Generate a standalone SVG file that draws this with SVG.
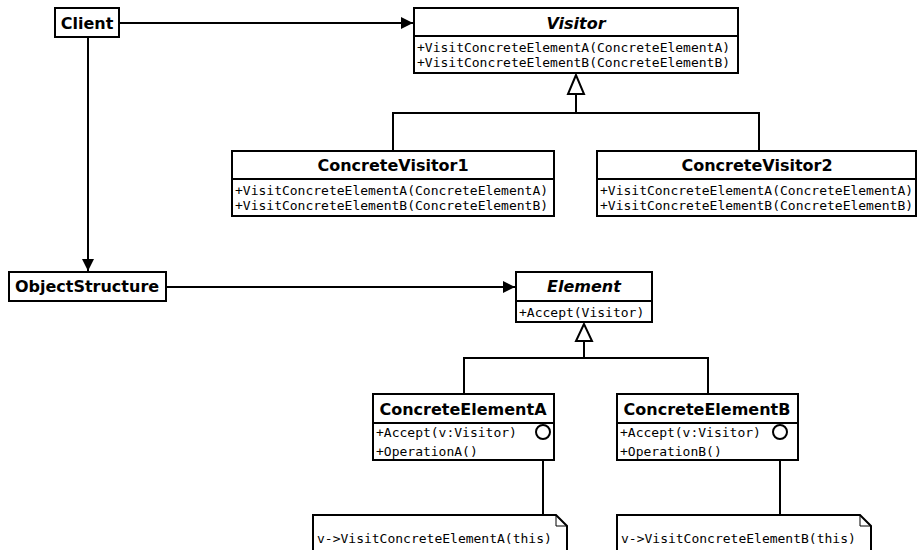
<svg xmlns="http://www.w3.org/2000/svg" width="918" height="550" viewBox="0 0 918 550">
<defs>
<style>
.box{fill:#fff;stroke:#000;stroke-width:2}
.ln{fill:none;stroke:#000;stroke-width:2}
.t{font-family:"DejaVu Sans",sans-serif;font-weight:bold;font-size:16px;text-anchor:middle;fill:#000}
.ti{font-family:"DejaVu Sans",sans-serif;font-weight:bold;font-style:italic;font-size:16px;text-anchor:middle;fill:#000}
.m{font-family:"DejaVu Sans Mono",monospace;font-size:13px;fill:#000}
</style>
<marker id="arr" viewBox="0 0 12 12" refX="12" refY="6" markerWidth="12" markerHeight="12" markerUnits="userSpaceOnUse" orient="auto">
<path d="M0,0 L12,6 L0,12 Z" fill="#000"/>
</marker>
</defs>
<g id="connectors">
<line class="ln" x1="119" y1="23" x2="413" y2="23" marker-end="url(#arr)"/>
<line class="ln" x1="88" y1="37" x2="88" y2="271" marker-end="url(#arr)"/>
<line class="ln" x1="166" y1="287" x2="515" y2="287" marker-end="url(#arr)"/>
<path class="ln" d="M576,94 V113 M393,151 V113 H759 V151"/>
<polygon class="box" points="576,75 568,94 584,94"/>
<path class="ln" d="M584,341 V358 M464,394 V358 H708 V394"/>
<polygon class="box" points="584,324 576,341 592,341"/>
<line class="ln" x1="543" y1="439" x2="543" y2="515"/>
<line class="ln" x1="780" y1="439" x2="780" y2="515"/>
</g>
<g id="client">
<rect class="box" x="55" y="8" width="64" height="29"/>
<text class="t" x="87" y="29">Client</text>
</g>
<g id="visitor">
<rect class="box" x="414" y="8" width="324" height="65"/>
<line class="ln" x1="414" y1="36" x2="738" y2="36"/>
<text class="ti" x="576" y="29">Visitor</text>
<text class="m" x="417" y="52">+VisitConcreteElementA(ConcreteElementA)</text>
<text class="m" x="417" y="67">+VisitConcreteElementB(ConcreteElementB)</text>
</g>
<g id="concretevisitor1">
<rect class="box" x="232" y="151" width="322" height="65"/>
<line class="ln" x1="232" y1="179" x2="554" y2="179"/>
<text class="t" x="393" y="171">ConcreteVisitor1</text>
<text class="m" x="235" y="195">+VisitConcreteElementA(ConcreteElementA)</text>
<text class="m" x="235" y="210">+VisitConcreteElementB(ConcreteElementB)</text>
</g>
<g id="concretevisitor2">
<rect class="box" x="597" y="151" width="319" height="65"/>
<line class="ln" x1="597" y1="179" x2="916" y2="179"/>
<text class="t" x="757" y="171">ConcreteVisitor2</text>
<text class="m" x="600" y="195">+VisitConcreteElementA(ConcreteElementA)</text>
<text class="m" x="600" y="210">+VisitConcreteElementB(ConcreteElementB)</text>
</g>
<g id="objectstructure">
<rect class="box" x="9" y="272" width="157" height="29"/>
<text class="t" x="87" y="292">ObjectStructure</text>
</g>
<g id="element">
<rect class="box" x="516" y="272" width="136" height="50"/>
<line class="ln" x1="516" y1="301" x2="652" y2="301"/>
<text class="ti" x="584" y="292">Element</text>
<text class="m" x="519" y="317">+Accept(Visitor)</text>
</g>
<g id="concreteelementa">
<rect class="box" x="373" y="394" width="181" height="66"/>
<line class="ln" x1="373" y1="423" x2="554" y2="423"/>
<text class="t" x="463" y="415">ConcreteElementA</text>
<text class="m" x="376" y="437">+Accept(v:Visitor)</text>
<text class="m" x="376" y="456">+OperationA()</text>
<circle class="box" cx="543" cy="432" r="7"/>
</g>
<g id="concreteelementb">
<rect class="box" x="617" y="394" width="181" height="66"/>
<line class="ln" x1="617" y1="423" x2="798" y2="423"/>
<text class="t" x="707" y="415">ConcreteElementB</text>
<text class="m" x="620" y="437">+Accept(v:Visitor)</text>
<text class="m" x="620" y="456">+OperationB()</text>
<circle class="box" cx="780" cy="432" r="7"/>
</g>
<g id="notea">
<path class="box" d="M313,556 V515 H556 L567,526 V556"/>
<path d="M556,515 V526 H567" fill="none" stroke="#000" stroke-width="1"/>
<text class="m" x="317" y="543">v-&gt;VisitConcreteElementA(this)</text>
</g>
<g id="noteb">
<path class="box" d="M617,556 V515 H860 L871,526 V556"/>
<path d="M860,515 V526 H871" fill="none" stroke="#000" stroke-width="1"/>
<text class="m" x="621" y="543">v-&gt;VisitConcreteElementB(this)</text>
</g>
</svg>
